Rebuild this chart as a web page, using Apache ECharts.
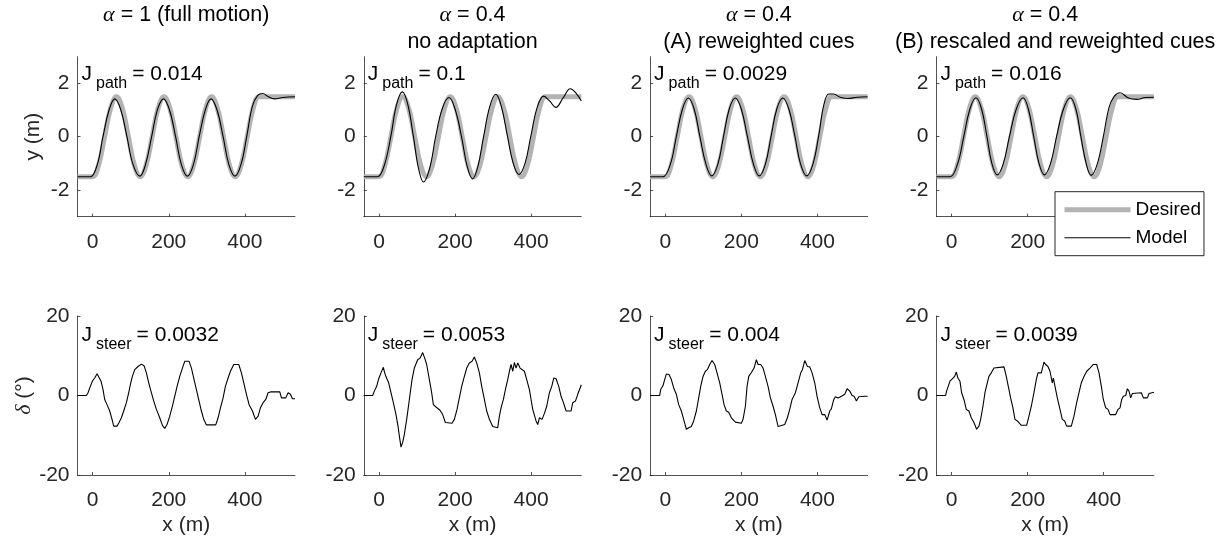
<!DOCTYPE html>
<html><head><meta charset="utf-8">
<script src="https://cdn.jsdelivr.net/npm/echarts@6/dist/echarts.min.js"></script>
<style>html,body{margin:0;padding:0;background:#fff}#c{width:1221px;height:543px}</style>
</head><body><div id="c"></div>
<script>
// ---------- data ----------
const xTicks = [0, 200, 400];
const pathTicks = [-2, 0, 2];
const steerTicks = [-20, 0, 20];
const titleAlpha = ['1 (full motion)', '0.4', '0.4', '0.4'];
const titleSub = ['', 'no adaptation', '(A) reweighted cues', '(B) rescaled and reweighted cues'];
const jPath = ['0.014', '0.1', '0.0029', '0.016'];
const jSteer = ['0.0032', '0.0053', '0.004', '0.0039'];

const desiredX = [-40, -15, 0, 15.6, 31.3, 46.9, 62.5, 78.1, 93.8, 109.4, 125, 140.6, 156.3, 171.9, 187.5, 203.1, 218.8, 234.4, 250, 265.6, 281.3, 296.9, 312.5, 328.1, 343.8, 359.4, 375, 390.6, 406.3, 421.9, 437.5, 455, 480, 532];
const desiredY = [-1.5, -1.5, -1.5, -1.06, 0, 1.06, 1.5, 1.06, 0, -1.06, -1.5, -1.06, 0, 1.06, 1.5, 1.06, 0, -1.06, -1.5, -1.06, 0, 1.06, 1.5, 1.06, 0, -1.06, -1.5, -1.06, 0, 1.06, 1.5, 1.5, 1.5, 1.5];

const modelPath1 = [[-40,-1.5],[-20,-1.5],[-6,-1.5],[12,-1.05],[27,0],[43,1.0],[58,1.42],[74,1.0],[90,0],[106,-1.04],[124,-1.48],[139,-1.04],[155,0],[170,1.0],[186,1.42],[202,1.0],[218,0],[233,-1.04],[249,-1.48],[265,-1.04],[280,0],[296,1.0],[311,1.42],[327,1.0],[343,0],[358,-1.04],[374,-1.48],[390,-1.04],[405,0],[420,1.15],[434,1.55],[447,1.62],[462,1.5],[478,1.42],[500,1.47],[532,1.5]];
const modelPath2 = [[-40,-1.5],[-20,-1.5],[-4,-1.5],[14,-1.07],[31,0],[46,1.19],[61.5,1.68],[76,1.19],[90.5,0],[104,-1.2],[117,-1.7],[133,-1.2],[149,0],[166,1.04],[184,1.47],[200,1.04],[217,0],[232,-1.12],[246,-1.58],[260,-1.12],[275,0],[291,1.12],[307,1.59],[322,1.12],[338,0],[353,-1.0],[368,-1.42],[384,-1.0],[399,0],[416,1.1],[433,1.52],[448,1.35],[465,1.1],[484,1.45],[503,1.8],[520,1.6],[532,1.34]];
const modelPath3 = [[-40,-1.5],[-20,-1.5],[-6,-1.5],[13,-1.05],[29,0],[45,1.03],[60.5,1.45],[76,1.03],[91,0],[107,-1.04],[122,-1.47],[138,-1.04],[153,0],[168,1.03],[184,1.45],[200,1.03],[216,0],[232,-1.04],[247,-1.47],[263,-1.04],[278,0],[293,1.03],[309,1.45],[325,1.03],[341,0],[356,-1.04],[372,-1.47],[388,-1.04],[403,0],[417,1.2],[430,1.6],[442,1.6],[460,1.48],[480,1.43],[505,1.48],[532,1.5]];
const modelPath4 = [[-40,-1.5],[-20,-1.5],[-4,-1.5],[15,-1.05],[32,0],[48,1.03],[64,1.46],[79,1.03],[93,0],[106,-1.01],[120,-1.43],[136,-1.01],[152,0],[170,1.03],[188,1.46],[202,1.03],[216,0],[230,-1.01],[244,-1.43],[260,-1.01],[276,0],[294,1.03],[312,1.46],[327,1.03],[340,0],[354,-1.01],[367,-1.45],[383,-1.03],[399,0],[414,1.1],[428,1.52],[443,1.65],[465,1.45],[487,1.4],[510,1.47],[532,1.48]];

const steer1 = [[-40,0],[-16.7,0],[-12.3,0.7],[-6.2,2.3],[-0.9,3.6],[5.2,4.4],[11.4,5.5],[16.6,5.0],[21.9,3.6],[27.2,1.5],[31.5,-1.0],[37.7,-2.3],[44.7,-3.9],[50.8,-6.0],[55.2,-7.7],[64.0,-7.7],[69.3,-6.8],[75.4,-5.6],[81.5,-3.9],[88.6,-1.8],[94.7,0.7],[100,3.2],[104.3,4.8],[110.5,6.5],[119.2,7.3],[128,7.9],[135,7.5],[141.2,5.7],[147.3,3.2],[154.3,0.7],[160.5,-1.4],[167.5,-3.5],[176.3,-5.6],[183.3,-7.5],[189.4,-8.3],[195.5,-7.3],[202.6,-5.2],[209.6,-2.7],[215.7,-0.2],[221.9,2.3],[228.9,4.8],[235.9,6.9],[242,8.6],[253.4,8.6],[259.6,6.9],[265.7,4.4],[272.7,1.5],[279.7,-1.4],[285.9,-3.9],[292,-6.0],[299,-7.4],[323.6,-7.4],[329.7,-5.6],[335.9,-3.1],[342.9,-0.6],[349,2.3],[356,4.4],[362.2,6.1],[371,7.8],[384.1,7.8],[391.1,5.7],[397.3,3.2],[404.3,0.3],[411.3,-2.3],[420.1,-3.9],[428,-6.0],[435,-5.2],[441.1,-3.1],[448.1,-1.8],[455.1,-1.0],[461.3,0.7],[467.4,0.9],[492,0.9],[496.4,-0.6],[507.8,-0.6],[513.9,0.7],[520,0.3],[525.3,-0.8],[532,-0.8]];
const steer2 = [[-40,0],[-16.7,0],[-12.3,1.1],[-6.2,2.3],[-0.9,4.2],[5.2,5.7],[11.4,7.1],[14.9,5.7],[18.4,4.7],[21.9,4.4],[25.4,3.2],[31.5,0.7],[37.7,-1.8],[44.7,-4.8],[50,-7.7],[53.5,-10.2],[57.9,-13],[62.2,-11.8],[66.6,-9.8],[72.8,-6],[79.8,-1],[86.8,4],[92.9,6.9],[101.7,9],[107.8,9.4],[114.9,10.8],[120.1,9.4],[125.4,7.8],[132.4,4],[138.5,0.7],[142.9,-2.3],[149.9,-2.9],[160.5,-3.7],[167.5,-4.8],[174.5,-6.8],[192,-7],[198.2,-6],[205.2,-3.5],[211.3,-0.6],[217.5,2.3],[224.5,4.8],[230.6,6.9],[237.6,8.2],[244.7,8.6],[250.8,9.7],[256.9,8.2],[264,5.7],[270.1,2.3],[277.1,-1],[283.2,-3.9],[290.3,-6],[299,-7.8],[312.2,-8.1],[316.6,-5.2],[321,-3.1],[327.1,-1],[332.4,1.5],[338.5,4],[342.9,6.1],[347.3,7.8],[351.7,6.1],[356,8.3],[360.4,6.9],[364.8,8.2],[371,6.9],[376.2,6.5],[382.3,6.1],[388.5,4],[395.5,1.5],[399.9,-1],[404.3,-3.5],[408.7,-3.9],[413,-6.4],[417.4,-7.3],[421.8,-5.6],[428.8,-6],[435,-4.5],[441.1,-2.7],[448.1,0.7],[454.3,2.3],[459.5,4.4],[465.7,4.2],[472.7,2.3],[478.8,-0.2],[485,-1.8],[492,-3.9],[505.1,-3.9],[509.5,-1.8],[516.5,-1.4],[522.7,0.3],[532,2.7]];
const steer3 = [[-40,0],[-14.8,0],[-12.2,1.5],[-6.0,2.5],[-1.7,4],[2.7,5.4],[9.8,5.3],[15.9,4],[22,1.9],[29,0.3],[35.2,-2.3],[42.2,-3.9],[48.3,-6],[55.4,-8.5],[61.5,-8.1],[68.5,-7.8],[74.6,-6.4],[81.7,-3.9],[87.8,-0.6],[93.1,2.3],[99.2,4.8],[105.3,6.1],[110.6,6.5],[116.7,7.8],[122.9,8.8],[129.9,7.8],[136,5.7],[143.1,3.2],[149.2,0.3],[154.5,-2.3],[160.6,-3.9],[166.7,-4.2],[173.8,-5.6],[184.3,-6.7],[200.1,-7],[204.4,-6],[210.6,-2.7],[215,2.3],[219.4,4.8],[226.4,5.8],[233.4,6.9],[239.5,9],[243.9,7.8],[250.9,7.8],[257.1,6.9],[263.2,4.8],[270.2,2.3],[276.4,-0.6],[283.4,-2.7],[289.5,-4.8],[296.5,-7.8],[300.9,-7.3],[314.1,-7.3],[321.1,-5.6],[327.2,-3.5],[333.4,-1],[337.7,-1.4],[342.1,0.7],[349.2,3.2],[356.2,5.7],[360.6,6.5],[366.7,8.8],[373.7,7.3],[379.8,7.2],[386,5.7],[393,3.2],[399.1,-0.2],[406.2,-3.1],[412.3,-4.8],[419.3,-4.8],[425.4,-6.2],[432.5,-3.9],[436.9,-3.3],[443,-1],[447.4,-0.3],[454.4,-0.6],[463.2,-0.2],[471.9,0.3],[478.1,1.7],[485.1,1.1],[491.2,0],[496.5,-0.2],[502.6,-1.4],[508.8,-0.3],[524.6,-0.2],[532,-0.2]];
const steer4 = [[-40,0],[-15.8,0],[-13.2,1.1],[-8.8,2.3],[-4.4,3.6],[1.7,4.2],[7.9,4.8],[12.3,5.9],[16.6,4.4],[21.9,3.6],[26.3,0.7],[32.4,-1],[38.6,-3.5],[45.6,-3.9],[51.7,-5.6],[58.7,-6.8],[65.8,-8.5],[71.9,-7.7],[76.3,-6],[82.4,-2.7],[87.7,0.7],[93.8,3.2],[98.2,4.8],[104.3,5.7],[111.4,6.9],[115.7,7.2],[137.7,7.2],[143.8,4.8],[149.1,2.3],[155.2,-0.6],[161.3,-3.1],[166.6,-6],[172.8,-6.4],[183.3,-7.5],[197.3,-7.5],[203.4,-5.2],[209.6,-2.7],[216.6,0.7],[222.7,4],[227.1,5.7],[235.9,5.7],[242.9,8.4],[247.3,7.8],[253.4,7.3],[258.7,6.1],[262.2,4.4],[264.8,3.2],[267.5,4.4],[271.9,2.3],[278,-0.6],[285,-3.5],[291.1,-6],[297.3,-6.4],[302.5,-7.7],[314.8,-7.7],[321.8,-5.2],[328.9,-1.8],[335,0.7],[341.1,3.2],[348.2,4.8],[355.2,6.1],[363.9,6.9],[372.7,7.8],[381.5,7.8],[387.6,5.7],[393.8,2.3],[399,-1],[405.2,-3.1],[411.3,-3.5],[416.6,-4.8],[431.5,-4.8],[437.6,-3.5],[442.9,-3.1],[447.3,-1],[451.6,-0.2],[457.8,0],[462.2,1.7],[466.5,1.1],[470.9,-0.6],[475.3,0.5],[479.7,0.7],[499,0.7],[504.3,-0.6],[514.8,-0.6],[519.2,0.5],[532,0.8]];

// ---------- layout ----------
const modelPaths = [modelPath1, modelPath2, modelPath3, modelPath4];
const steers = [steer1, steer2, steer3, steer4];
const FONT = '"Liberation Sans", Arial, Helvetica, sans-serif';
const SERIF = '"Liberation Serif", "DejaVu Serif", serif';
const AX = '#262626';
const colLeft = i => 77.5 + 286.3 * i;
const colW = 217.5;
const rowTop = [56.7, 316];
const rowH = [160, 159];
const subTitleX = [0, 0, 0, 10];

const grids = [], xAxes = [], yAxes = [], series = [], graphics = [];
const desiredData = desiredX.map((x, k) => [x, desiredY[k]]);

for (let r = 0; r < 2; r++) {
  for (let c = 0; c < 4; c++) {
    const gi = r * 4 + c;
    grids.push({ left: colLeft(c), top: rowTop[r], width: colW, height: rowH[r], containLabel: false });
    xAxes.push({
      type: 'value', gridIndex: gi, min: -40, max: 532,
      name: r === 1 ? 'x (m)' : '', nameLocation: 'middle', nameGap: 40,
      nameTextStyle: { fontFamily: FONT, fontSize: 21, color: AX },
      axisLine: { show: true, onZero: false, lineStyle: { color: AX, width: 0.8 } },
      axisTick: { show: true, inside: true, length: 3, customValues: xTicks, lineStyle: { color: AX, width: 0.8 } },
      axisLabel: { show: true, customValues: xTicks, margin: 15, fontFamily: FONT, fontSize: 21, color: AX },
      splitLine: { show: false }
    });
    const isTop = r === 0;
    yAxes.push({
      type: 'value', gridIndex: gi,
      min: isTop ? -3 : -20, max: isTop ? 3 : 20,
      name: c === 0 ? (isTop ? 'y (m)' : '{d|δ} (°)') : '',
      nameLocation: 'middle', nameGap: 34, nameRotate: 90,
      nameTextStyle: { fontFamily: FONT, fontSize: 21, color: AX,
        rich: { d: { fontFamily: SERIF, fontStyle: 'italic', fontSize: 22, color: AX } } },
      axisLine: { show: true, onZero: false, lineStyle: { color: AX, width: 0.8 } },
      axisTick: { show: true, inside: true, length: 3, customValues: isTop ? pathTicks : steerTicks, lineStyle: { color: AX, width: 0.8 } },
      axisLabel: { show: true, customValues: isTop ? pathTicks : steerTicks, margin: 8, fontFamily: FONT, fontSize: 21, color: AX },
      splitLine: { show: false }
    });
    if (isTop) {
      series.push({ name: 'Desired', type: 'line', xAxisIndex: gi, yAxisIndex: gi, data: desiredData,
        showSymbol: false, symbol: 'none', smooth: 0.4, itemStyle: { color: '#b3b3b3' },
        lineStyle: { color: '#b3b3b3', width: 5 }, z: 2 });
      series.push({ name: 'Model', type: 'line', xAxisIndex: gi, yAxisIndex: gi, data: modelPaths[c],
        showSymbol: false, symbol: 'none', smooth: 0.4, itemStyle: { color: '#000' },
        lineStyle: { color: '#000', width: 1.1 }, z: 3 });
    } else {
      series.push({ name: 'Model', type: 'line', xAxisIndex: gi, yAxisIndex: gi, data: steers[c],
        showSymbol: false, symbol: 'none', itemStyle: { color: '#000' },
        lineStyle: { color: '#000', width: 1.1 }, z: 3 });
    }
  }
}

for (let c = 0; c < 4; c++) {
  const cx = colLeft(c) + colW / 2;
  graphics.push({ type: 'text', x: cx, y: 15, style: {
    text: '{a|α} = ' + titleAlpha[c], textAlign: 'center', textVerticalAlign: 'middle',
    fontFamily: FONT, fontSize: 21.5, fill: '#000',
    rich: { a: { fontFamily: SERIF, fontStyle: 'italic', fontSize: 22, fill: '#000' } } } });
  if (titleSub[c]) graphics.push({ type: 'text', x: cx + subTitleX[c], y: 42, style: {
    text: titleSub[c], textAlign: 'center', textVerticalAlign: 'middle', fontFamily: FONT, fontSize: 21.5, fill: '#000' } });
  const jRich = {
    m: { fontFamily: FONT, fontSize: 21, lineHeight: 22, verticalAlign: 'top', fill: '#000' },
    s: { fontFamily: FONT, fontSize: 16, lineHeight: 40, padding: [0, 5, 0, 4], fill: '#000' }
  };
  graphics.push({ type: 'text', x: colLeft(c) + 4, y: 64, style: {
    text: '{m|J}{s|path}{m|= ' + jPath[c] + '}', textVerticalAlign: 'top', rich: jRich } });
  graphics.push({ type: 'text', x: colLeft(c) + 4, y: 325, style: {
    text: '{m|J}{s|steer}{m|= ' + jSteer[c] + '}', textVerticalAlign: 'top', rich: jRich } });
}

const chart = echarts.init(document.getElementById('c'), null, { renderer: 'canvas' });
chart.setOption({
  animation: false,
  backgroundColor: '#fff',
  grid: grids, xAxis: xAxes, yAxis: yAxes, series: series,
  legend: {
    data: [
      { name: 'Desired', itemStyle: { opacity: 0 }, lineStyle: { color: '#b3b3b3', width: 5 } },
      { name: 'Model', itemStyle: { opacity: 0 }, lineStyle: { color: '#000', width: 1.1 } }
    ],
    orient: 'vertical', left: 1055, top: 191.7,
    itemWidth: 66, itemHeight: 14, itemGap: 8, padding: [8, 3, 8, 7],
    backgroundColor: '#fff', borderColor: AX, borderWidth: 1, borderRadius: 0,
    selectedMode: false, z: 10,
    textStyle: { fontFamily: FONT, fontSize: 19, color: '#000', lineHeight: 20, padding: [0, 0, 0, 0] }
  },
  graphic: graphics
});
</script></body></html>
